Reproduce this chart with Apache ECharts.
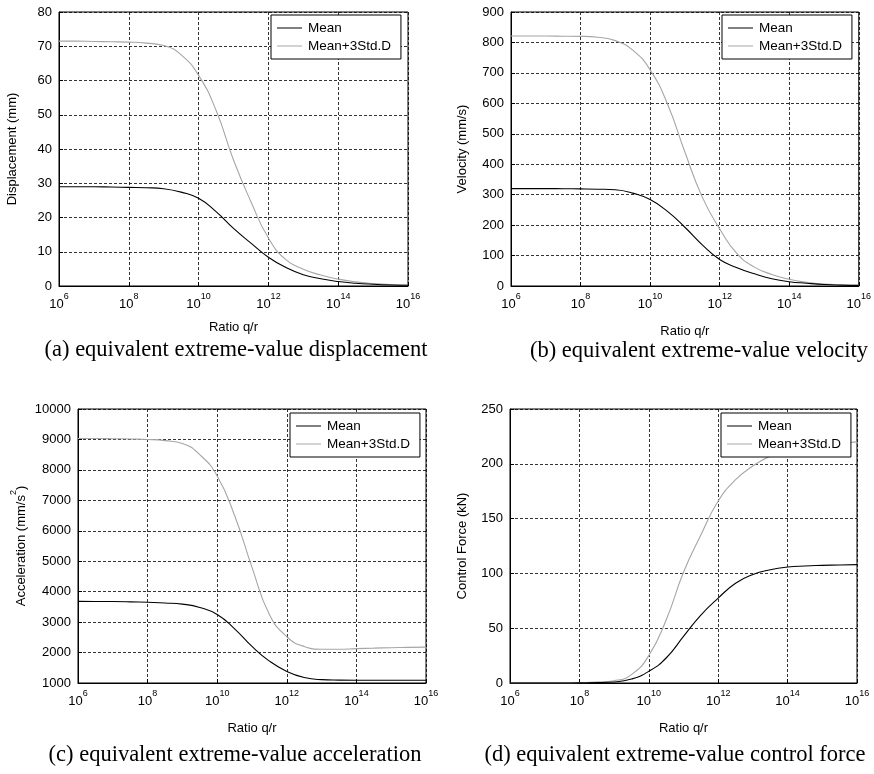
<!DOCTYPE html>
<html>
<head>
<meta charset="utf-8">
<script src="https://cdn.jsdelivr.net/npm/echarts@6/dist/echarts.min.js"></script>
<style>html,body{margin:0;padding:0;background:#fff}#c{width:874px;height:774px}</style>
</head>
<body>
<div id="c"></div>
<script>
// log10 of Ratio q/r
const expo = [6, 6.5, 7, 7.5, 8, 8.5, 9, 9.5, 10, 10.5, 11, 11.5, 12, 12.5, 13, 13.5, 14, 14.5, 15, 15.5, 16];
const xTicks = [6, 8, 10, 12, 14, 16];

const dispMean = [29, 29, 29, 28.9, 28.8, 28.7, 28.4, 27.4, 25.6, 21.7, 16.8, 12.5, 8.4, 5.4, 3.3, 2.1, 1.3, 0.8, 0.5, 0.3, 0.2];
const dispStd  = [71.5, 71.5, 71.4, 71.3, 71.2, 70.9, 70.2, 67.5, 61.5, 51.3, 36.8, 24.6, 14, 7.7, 4.9, 3.2, 2, 1.2, 0.7, 0.4, 0.3];

const velMean = [320, 320, 320, 319.5, 319, 318, 316, 305, 284, 245, 193, 135, 87, 60, 40, 24, 14, 9, 5, 3, 2];
const velStd  = [821, 821, 821, 820.5, 820, 817, 806, 775, 710, 598, 440, 292, 188, 106, 62, 38, 22, 12, 6, 3.5, 2];

const accMean = [3680, 3678, 3675, 3665, 3650, 3630, 3590, 3480, 3250, 2780, 2200, 1720, 1380, 1180, 1110, 1095, 1090, 1090, 1090, 1090, 1090];
const accStd  = [9030, 9030, 9025, 9015, 9000, 8960, 8870, 8500, 7800, 6500, 4800, 3250, 2520, 2200, 2110, 2110, 2130, 2145, 2160, 2170, 2180];

const forMean = [0, 0, 0, 0, 0.1, 0.3, 0.9, 3.6, 10.6, 22.8, 42.5, 62, 77.5, 91, 99, 103.3, 105.8, 106.8, 107.3, 107.7, 108];
const forStd  = [0, 0, 0, 0, 0.2, 0.8, 2.1, 7.6, 25, 57.5, 101, 135, 166, 185.5, 198, 207, 212, 215, 217, 218.5, 220];

const yNames = ['Displacement (mm)', 'Velocity (mm/s)', '{n|Acceleration (mm/s}{s|2}{n|)}', 'Control Force (kN)'];
const yRanges = [[0, 80, 10], [0, 900, 100], [1000, 10000, 1000], [0, 250, 50]];
const captions = ['(a) equivalent extreme-value displacement', '(b) equivalent extreme-value velocity',
                  '(c) equivalent extreme-value acceleration', '(d) equivalent extreme-value control force'];
const seriesNames = ['Mean', 'Mean+3Std.D'];

const FONT = 'Liberation Sans, Arial, Helvetica, sans-serif';
const grids = [
  {left: 59, top: 12, width: 349, height: 274},
  {left: 511, top: 12, width: 348, height: 274},
  {left: 78, top: 409, width: 348, height: 274},
  {left: 510, top: 409, width: 347, height: 274}
];
const yNameGap = [40, 42, 50, 41];
const xNameGap = [35, 39, 39, 39];
const legendPos = [[271, 15], [722, 15], [290, 413], [721, 413]];
const capPos = [[236, 350], [699, 351], [235, 755], [675, 755]];
const dataSets = [[dispMean, dispStd], [velMean, velStd], [accMean, accStd], [forMean, forStd]];
const colors = ['#000', '#a6a6a6'];

const zip = arr => expo.map((e, i) => [e, arr[i]]);
const dash = {type: [3, 2], color: '#000', width: 0.8};

const option = {
  backgroundColor: '#fff',
  animation: false,
  grid: grids.map(g => Object.assign({show: true, borderColor: '#000', borderWidth: 1, backgroundColor: 'transparent'}, g)),
  xAxis: grids.map((g, i) => ({
    type: 'value', gridIndex: i, min: 6, max: 16, interval: 2,
    name: 'Ratio q/r', nameLocation: 'middle', nameGap: xNameGap[i],
    nameTextStyle: {fontFamily: FONT, fontSize: 13, color: '#000'},
    axisLine: {show: true, lineStyle: {color: '#000', width: 1}},
    axisTick: {show: true, inside: true, length: 4, lineStyle: {color: '#000'}},
    splitLine: {show: true, lineStyle: dash},
    axisLabel: {
      margin: 7, color: '#000',
      formatter: v => '{a|10}{b|' + v + '}',
      rich: {
        a: {fontFamily: FONT, fontSize: 13, color: '#000', verticalAlign: 'bottom', lineHeight: 18},
        b: {fontFamily: FONT, fontSize: 9, color: '#000', verticalAlign: 'bottom', lineHeight: 18, padding: [0, 0, 10, 0]}
      }
    }
  })),
  yAxis: grids.map((g, i) => ({
    type: 'value', gridIndex: i, min: yRanges[i][0], max: yRanges[i][1], interval: yRanges[i][2],
    name: yNames[i], nameLocation: 'middle', nameGap: yNameGap[i], nameRotate: 90,
    nameTextStyle: {fontFamily: FONT, fontSize: 13, color: '#000',
      rich: {
        n: {fontFamily: FONT, fontSize: 13, color: '#000', verticalAlign: 'bottom', lineHeight: 18},
        s: {fontFamily: FONT, fontSize: 9, color: '#000', verticalAlign: 'bottom', lineHeight: 18, padding: [0, 0, 10, 0]}
      }},
    axisLine: {show: true, lineStyle: {color: '#000', width: 1}},
    axisTick: {show: true, inside: true, length: 4, lineStyle: {color: '#000'}},
    splitLine: {show: true, lineStyle: dash},
    axisLabel: {fontFamily: FONT, fontSize: 13, color: '#000', margin: 7, formatter: v => String(v)}
  })),
  legend: legendPos.map(p => ({
    left: p[0], top: p[1], orient: 'vertical',
    data: seriesNames.map((n, k) => ({name: n, icon: 'path://M0,0H25V1H0Z', itemStyle: {color: colors[k]}})),
    backgroundColor: '#fff', borderColor: '#000', borderWidth: 1,
    padding: [5, 10, 5, 6], itemGap: 2, itemWidth: 25, itemHeight: 1.4,
    textStyle: {fontFamily: FONT, fontSize: 13.5, color: '#000', lineHeight: 16, padding: [0, 0, 0, 1]},
    selectedMode: false, z: 10
  })),
  graphic: captions.map((c, i) => ({
    type: 'text', x: capPos[i][0], y: capPos[i][1],
    style: {text: c, font: '22.5px "Liberation Serif", "Times New Roman", serif', fill: '#000', align: 'center', verticalAlign: 'middle'}
  })),
  series: []
};

dataSets.forEach((ds, i) => {
  ds.forEach((arr, k) => {
    option.series.push({
      type: 'line', name: seriesNames[k], xAxisIndex: i, yAxisIndex: i,
      data: zip(arr), symbol: 'none', smooth: 0.5,
      lineStyle: {color: colors[k], width: 1.1},
      itemStyle: {color: colors[k]},
      z: k === 0 ? 3 : 2
    });
  });
});

const chart = echarts.init(document.getElementById('c'), null, {renderer: 'canvas'});
chart.setOption(option);
</script>
</body>
</html>
